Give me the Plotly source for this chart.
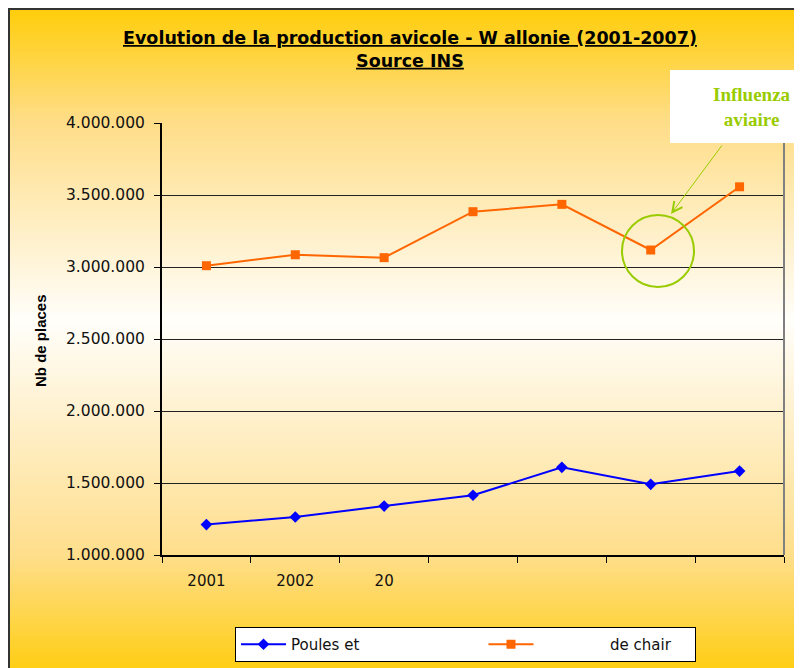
import plotly.graph_objects as go

years = ["2001", "2002", "2003", "2004", "2005", "2006", "2007"]
year_labels = ["2001", "2002", "20", "", "", "", ""]
poules = [1211000, 1264000, 1340000, 1415000, 1609000, 1491000, 1583000]
chair = [3009000, 3085000, 3065000, 3384000, 3435000, 3118000, 3557000]
y_ticks = [1000000, 1500000, 2000000, 2500000, 3000000, 3500000, 4000000]

# page body has an 8px margin, so the figure is drawn 8px in
O = 8
W, H = 802 - O, 668 - O
L, R, T, B = 162 - O, 18, 123 - O, 113
PW, PH = W - L - R, H - T - B


def px(x):
    # screen x -> paper
    return (x - O - L) / PW


def py(y):
    # screen y -> paper
    return (H - B - (y - O)) / PH


# background gradient yellow -> white -> yellow
stops = [(0, (255, 204, 0)), (120, (255, 221, 135)), (320, (255, 254, 250)),
         (555, (255, 222, 140)), (680, (255, 204, 8))]


def grad(y):
    for (y0, c0), (y1, c1) in zip(stops, stops[1:]):
        if y0 <= y <= y1:
            f = (y - y0) / (y1 - y0)
            return "rgb(%d,%d,%d)" % tuple(round(a + (b - a) * f) for a, b in zip(c0, c1))
    return "rgb(255,204,0)"


shapes = []
step = 4
for y in range(8, 672, step):
    shapes.append(dict(type="rect", xref="paper", yref="paper", layer="below",
                       x0=px(8), x1=px(810), y0=py(y), y1=py(y + step + 1),
                       fillcolor=grad(y + step / 2), line_width=0))

shapes += [
    # outer frame
    dict(type="line", xref="paper", yref="paper", x0=px(9), x1=px(9), y0=py(8), y1=py(680),
         line=dict(color="#333333", width=2)),
    dict(type="line", xref="paper", yref="paper", x0=px(8), x1=px(810), y0=py(9), y1=py(9),
         line=dict(color="#333333", width=2)),
    # right border of plot area
    dict(type="line", xref="paper", yref="paper", x0=1, x1=1, y0=0, y1=1,
         line=dict(color="#808080", width=2)),
    # white label box
    dict(type="rect", xref="paper", yref="paper", x0=px(670), x1=px(810), y0=py(143), y1=py(70),
         fillcolor="white", line_width=0),
    # circle around 2006
    dict(type="circle", xref="paper", yref="paper", x0=px(622), x1=px(694), y0=py(287), y1=py(215),
         line=dict(color="#99CC00", width=2)),
]

fig = go.Figure()
fig.add_trace(go.Scatter(x=years, y=poules, name="Poules et" + "\u00a0" * 25,
                         mode="lines+markers",
                         line=dict(color="#0000FF", width=2),
                         marker=dict(symbol="diamond", size=9, color="#0000FF")))
fig.add_trace(go.Scatter(x=years, y=chair, name="\u00a0" * 15 + "de chair" + "\u00a0" * 4,
                         mode="lines+markers",
                         line=dict(color="#FF6600", width=2),
                         marker=dict(symbol="square", size=9, color="#FF6600")))

fig.update_layout(
    width=W, height=H, autosize=False,
    margin=dict(l=L, r=R, t=T, b=B, autoexpand=False),
    paper_bgcolor="white", plot_bgcolor="rgba(0,0,0,0)",
    separators=",.",
    font=dict(family="DejaVu Sans", size=15, color="#111111"),
    shapes=shapes,
    showlegend=True,
    legend=dict(orientation="h", x=px(235), y=py(627), xanchor="left", yanchor="top",
                bgcolor="white", bordercolor="black", borderwidth=1,
                font=dict(size=15), itemwidth=45, tracegroupgap=0),
    xaxis=dict(type="category", tickvals=years, ticktext=year_labels,
               tickson="boundaries", ticks="outside", ticklen=6, tickcolor="black",
               showline=True, linecolor="black", linewidth=2, showgrid=False,
               ticklabelstandoff=11, tickfont=dict(size=15), range=[-0.5, 6.5]),
    yaxis=dict(range=[1000000, 4000000], tickvals=y_ticks, tickformat=",.0f",
               ticks="outside", ticklen=6, tickcolor="black",
               showline=True, linecolor="black", linewidth=2,
               showgrid=True, gridcolor="#222222", gridwidth=1, zeroline=False,
               ticklabelstandoff=6, tickfont=dict(size=15.5)),
)

fig.add_annotation(xref="paper", yref="paper", x=px(410), y=py(49),
                   xanchor="center", yanchor="middle", showarrow=False,
                   text="<b><u>Evolution de la production avicole - W allonie (2001-2007)</u></b><br>"
                        "<b><u>Source INS</u></b>",
                   font=dict(family="DejaVu Sans", size=17.5, color="black"), align="center")
fig.add_annotation(xref="paper", yref="paper", x=px(40), y=py(341),
                   xanchor="center", yanchor="middle", showarrow=False,
                   text="<b>Nb de places</b>", textangle=-90,
                   font=dict(family="Liberation Sans", size=15, color="black"))
fig.add_annotation(xref="paper", yref="paper", x=px(752), y=py(107),
                   xanchor="center", yanchor="middle", showarrow=False,
                   text="<b>Influenza<br>aviaire</b>", align="center",
                   font=dict(family="Liberation Serif", size=19, color="#99CC00"))
fig.add_annotation(xref="paper", yref="paper", x=px(671), y=py(214), text="",
                   showarrow=True, arrowhead=5, arrowsize=2, arrowwidth=1, arrowcolor="#99CC00",
                   ax=52, ay=-70, standoff=0)

fig.write_html("out.html")
